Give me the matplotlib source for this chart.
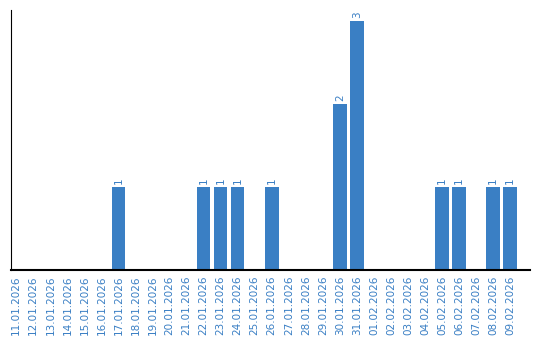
import matplotlib
matplotlib.use("Agg")
import numpy as np
from matplotlib import pyplot as plt

dates = ["11.01.2026", "12.01.2026", "13.01.2026", "14.01.2026", "15.01.2026",
         "16.01.2026", "17.01.2026", "18.01.2026", "19.01.2026", "20.01.2026",
         "21.01.2026", "22.01.2026", "23.01.2026", "24.01.2026", "25.01.2026",
         "26.01.2026", "27.01.2026", "28.01.2026", "29.01.2026", "30.01.2026",
         "31.01.2026", "01.02.2026", "02.02.2026", "03.02.2026", "04.02.2026",
         "05.02.2026", "06.02.2026", "07.02.2026", "08.02.2026", "09.02.2026"]
counts = [0, 0, 0, 0, 0, 0, 1, 0, 0, 0,
          0, 1, 1, 1, 0, 1, 0, 0, 0, 2,
          3, 0, 0, 0, 0, 1, 1, 0, 1, 1]

blue = "#3a7fc4"

fig = plt.figure(figsize=(5.4, 3.4), dpi=100)
ax = fig.add_axes([0.021, 0.206, 0.961, 0.764])

x = np.arange(len(dates))
bars = ax.bar(x, counts, width=0.8, color=blue)
for xi, c in zip(x, counts):
    if c > 0:
        ax.text(xi, c + 0.03, str(c), rotation=90, ha="center", va="bottom",
                color=blue, fontsize=7.5)

# category spacing leaves a bit of room on the right like the original
ax.set_xlim(-0.29, 30.18)
ax.set_ylim(0, 3.13)
ax.set_xticks(x)
ax.set_xticklabels(dates, rotation=90, color=blue, fontsize=7.5)
ax.tick_params(axis="x", length=0, pad=4)
ax.set_yticks([])
ax.spines["top"].set_visible(False)
ax.spines["right"].set_visible(False)
ax.spines["bottom"].set_linewidth(1.5)

fig.savefig("out.png", dpi=100)
